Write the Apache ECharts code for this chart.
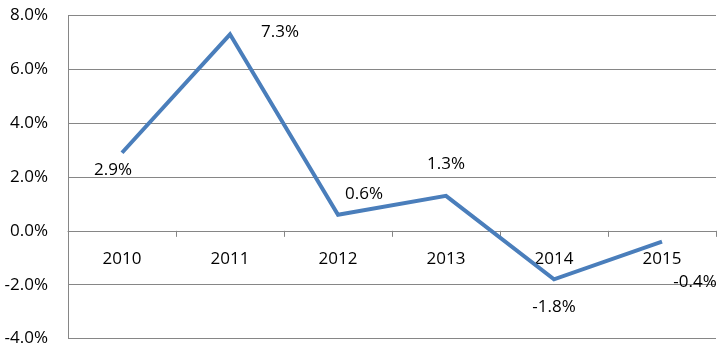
<!DOCTYPE html>
<html>
<head>
<meta charset="utf-8">
<script src="https://cdn.jsdelivr.net/npm/echarts@6/dist/echarts.min.js"></script>
<style>
  html, body { margin: 0; padding: 0; background: #fff; }
  #chart { width: 725px; height: 353px; }
</style>
</head>
<body>
<div id="chart"></div>
<script>
const years = ['2010', '2011', '2012', '2013', '2014', '2015']
const growth = [2.9, 7.3, 0.6, 1.3, -1.8, -0.4]
// label offsets from each point, as Excel placed them
const labelOffsets = [[-9, 17], [50, -2], [26, -21], [0, -32], [0, 28], [33, 41]]
const yMin = -4
const yMax = 8

const font = 'Open Sans'
const fontSize = 17
const gridTop = 15.5
const gridBottom = 14.5
const chart = echarts.init(document.getElementById('chart'))

const seriesData = growth.map((v, i) => ({
  value: v,
  label: { offset: labelOffsets[i] }
}))

// move the category axis up to the zero line
const plotH = 353 - gridTop - gridBottom
const zeroShift = -plotH * (0 - yMin) / (yMax - yMin)

chart.setOption({
  animation: false,
  grid: { left: 68, right: 9, top: gridTop, bottom: gridBottom, containLabel: false, outerBoundsMode: 'none' },
  xAxis: {
    type: 'category',
    data: years,
    boundaryGap: true,
    offset: zeroShift,
    axisLine: { onZero: false, lineStyle: { color: '#868686', width: 1 } },
    axisTick: { show: true, length: 6, lineStyle: { color: '#868686' } },
    axisLabel: {
      margin: 20,
      interval: 0,
      color: '#000',
      fontSize,
      fontFamily: font
    }
  },
  yAxis: {
    type: 'value',
    min: yMin,
    max: yMax,
    interval: 2,
    axisLine: { show: true, lineStyle: { color: '#868686', width: 1 } },
    axisTick: { show: false },
    splitLine: { lineStyle: { color: '#868686', width: 1 } },
    axisLabel: {
      margin: 20,
      color: '#000',
      fontSize,
      fontFamily: font,
      formatter: v => v.toFixed(1) + '%'
    }
  },
  series: [{
    type: 'line',
    data: seriesData,
    symbol: 'circle',
    symbolSize: 1,
    itemStyle: { color: 'rgba(0,0,0,0)' },
    lineStyle: { color: '#4a7ebb', width: 4, join: 'miter' },
    label: {
      show: true,
      position: 'inside',
      color: '#000',
      fontSize,
      fontFamily: font,
      formatter: p => p.value.toFixed(1) + '%'
    }
  }]
})
</script>
</body>
</html>
